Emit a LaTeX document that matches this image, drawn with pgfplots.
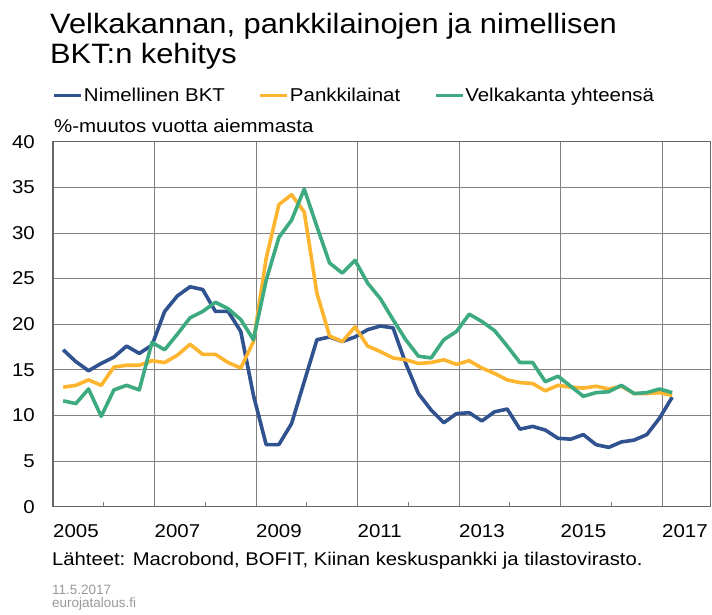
\documentclass[border=0pt]{standalone}
\usepackage{fontspec}
\setmainfont{Liberation Sans}[FakeStretch=1.1]
\newfontfamily\smallfont{Liberation Sans}
\usepackage{pgfplots}
\pgfplotsset{compat=1.18}

\definecolor{bkt}{HTML}{30528F}
\definecolor{laina}{HTML}{FDB42E}
\definecolor{velka}{HTML}{3DAA80}

% quarterly, 2005Q1 ... 2017Q1
\pgfplotstableread{
x        bkt   laina velka
2005.20  17.2  13.1  11.6
2005.45  15.9  13.3  11.3
2005.70  14.9  13.9  12.9
2005.95  15.7  13.3   9.9
2006.20  16.4  15.3  12.8
2006.45  17.6  15.5  13.3
2006.70  16.8  15.5  12.8
2006.95  17.7  16.0  18.0
2007.20  21.4  15.8  17.2
2007.45  23.1  16.6  18.9
2007.70  24.1  17.8  20.7
2007.95  23.8  16.7  21.4
2008.20  21.4  16.7  22.4
2008.45  21.4  15.8  21.7
2008.70  19.2  15.2  20.5
2008.95  12.2  18.1  18.3
2009.20   6.8  27.2  24.8
2009.45   6.8  33.1  29.5
2009.70   9.1  34.2  31.4
2009.95  13.7  32.3  34.8
2010.20  18.3  23.4  30.7
2010.45  18.6  18.7  26.7
2010.70  18.1  18.1  25.6
2010.95  18.6  19.7  27.0
2011.20  19.4  17.6  24.5
2011.45  19.8  17.0  22.8
2011.70  19.6  16.3  20.5
2011.95  15.7  16.1  18.3
2012.20  12.4  15.7  16.5
2012.45  10.6  15.8  16.3
2012.70   9.2  16.1  18.3
2012.95  10.2  15.6  19.2
2013.20  10.3  16.0  21.1
2013.45   9.4  15.2  20.3
2013.70  10.4  14.6  19.3
2013.95  10.7  13.9  17.6
2014.20   8.5  13.6  15.8
2014.45   8.8  13.5  15.8
2014.70   8.4  12.7  13.7
2014.95   7.5  13.3  14.3
2015.20   7.4  13.1  13.2
2015.45   7.9  13.0  12.1
2015.70   6.8  13.2  12.5
2015.95   6.5  12.9  12.6
2016.20   7.1  13.2  13.3
2016.45   7.3  12.4  12.4
2016.70   7.9  12.4  12.5
2016.95   9.7  12.5  12.9
2017.20  12.0  12.2  12.5
}\data

\begin{document}
\begin{tikzpicture}
\path (0pt,0pt) rectangle (712pt,-615pt);

\node[anchor=base west, inner sep=0pt, font=\fontsize{28}{30}\selectfont]
  at (50pt,-33.3pt) {Velkakannan, pankkilainojen ja nimellisen};
\node[anchor=base west, inner sep=0pt, font=\fontsize{28}{30}\selectfont]
  at (50pt,-63.3pt) {BKT:n kehitys};
\node[anchor=base west, inner sep=0pt, font=\fontsize{18.6}{20}\selectfont]
  at (54pt,-133pt) {\%-muutos vuotta aiemmasta};

\begin{axis}[
  at={(53pt,-506.7pt)}, anchor=south west,
  scale only axis, width=657.5pt, height=365pt,
  xmin=2005, xmax=2017.955, ymin=0, ymax=40,
  xtick={2005,2007,...,2017},
  minor xtick={2006,2008,...,2016},
  ytick={0,5,...,40},
  xticklabel={\pgfmathprintnumber[1000 sep={}]{\tick}},
  xmajorgrids, ymajorgrids,
  major grid style={black!50, line width=0.9pt},
  axis line style={black!60, line width=1.1pt},
  tick align=inside, xtick pos=bottom, ytick pos=left,
  major tick length=0pt, minor tick length=5pt,
  minor tick style={black!50, line width=0.8pt},
  /pgf/number format/assume math mode=true,
  tick label style={font=\fontsize{18.6}{20}\selectfont, inner sep=0pt},
  xticklabel style={anchor=north west, yshift=-18pt},
  yticklabel style={anchor=east, xshift=-18pt},
  legend style={at={(0,1.126)}, anchor=west, draw=none, fill=none,
    inner sep=0pt, outer sep=0pt,
    font=\fontsize{18.6}{20}\selectfont, legend columns=3,
    nodes={inner xsep=1pt, inner ysep=0pt},
    /tikz/every even column/.append style={column sep=33pt}},
  legend image code/.code={\draw[#1, line width=3pt] (0pt,0pt) -- (27pt,0pt);},
  every axis plot/.append style={line width=3.6pt, line join=round},
]
\addplot[bkt] table[x=x, y=bkt] {\data};
\addplot[laina] table[x=x, y=laina] {\data};
\addplot[velka] table[x=x, y=velka] {\data};
\legend{Nimellinen BKT, Pankkilainat, Velkakanta yhteensä}
\end{axis}

\node[anchor=base west, inner sep=0pt, font=\fontsize{18.4}{20}\selectfont]
  at (52pt,-565.7pt) {Lähteet: Macrobond, BOFIT, Kiinan keskuspankki ja tilastovirasto.};
\node[anchor=base west, inner sep=0pt, text=black!40, font=\smallfont\fontsize{13.5}{15}\selectfont]
  at (52pt,-594.3pt) {11.5.2017};
\node[anchor=base west, inner sep=0pt, text=black!40, font=\smallfont\fontsize{13.5}{15}\selectfont]
  at (52pt,-607.5pt) {eurojatalous.fi};
\end{tikzpicture}
\end{document}
